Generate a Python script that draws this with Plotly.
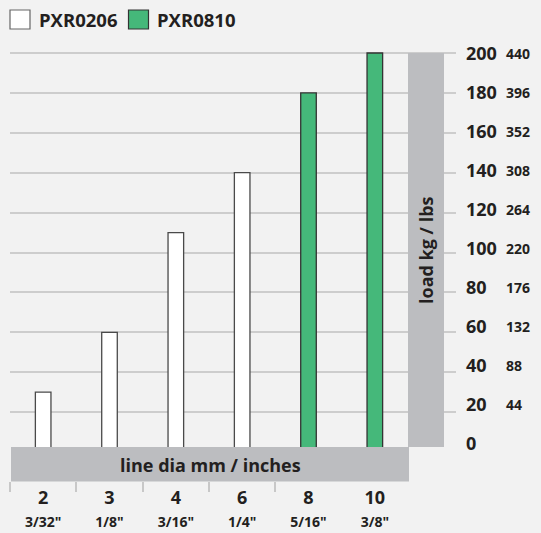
import plotly.graph_objects as go

# ---- data ----
dia_mm = ["2", "3", "4", "6", "8", "10"]
dia_inch = ['3/32"', '1/8"', '3/16"', '1/4"', '5/16"', '3/8"']
series_names = ["PXR0206", "PXR0810"]
pxr0206_load = [30, 60, 110, 140, None, None]
pxr0810_load = [None, None, None, None, 180, 200]
kg_ticks = [0, 20, 40, 60, 80, 100, 120, 140, 160, 180, 200]
lbs_ticks = [44, 88, 132, 176, 220, 264, 308, 352, 396, 440]
y_title = "load kg / lbs"
x_title = "line dia mm / inches"

# ---- layout helpers (pixel -> paper) ----
W, H = 541, 533
ML, MR, MT, MB = 10, 44, 50, 52
PW, PH = W - ML - MR, H - MT - MB
def fx(p):
    return (p - ML) / PW
def fy(p):
    return (H - MB - p) / PH

BG = "#f2f2f2"
BAND = "#bcbdc0"
GREEN = "#45b87a"
TXT = "#231f20"
FONT = "Open Sans"

pos = list(range(len(dia_mm)))
cat_w = (408 - 10) / len(dia_mm)
x_hi = -0.5 + (456 - 10) / cat_w

k = (452 - 53) / 200.0
y_rng = [-(H - MB - 452) / k, 200 + (53 - MT) / k]
k2 = (444 - 54) / 200.0
y2_rng = [-(H - MB - 444) / k2, 200 + (54 - MT) / k2]
y3_rng = [v * 2.2 for v in y2_rng]

fig = go.Figure()
fig.add_trace(go.Bar(x=pos, y=pxr0206_load, name=series_names[0], width=0.235,
                     marker=dict(color="white", line=dict(color="#4a4a4a", width=1.3)),
                     showlegend=False))
fig.add_trace(go.Bar(x=pos, y=pxr0810_load, name=series_names[1], width=0.235,
                     marker=dict(color=GREEN, line=dict(color="#333333", width=1.3)),
                     showlegend=False))
fig.add_trace(go.Scatter(x=[None], y=[None], yaxis="y2", showlegend=False, hoverinfo="skip"))
fig.add_trace(go.Scatter(x=[None], y=[None], yaxis="y3", showlegend=False, hoverinfo="skip"))

ticktext = [f"<b>{m}</b><br><span style='font-size:14px'>{i}</span>" for m, i in zip(dia_mm, dia_inch)]

fig.update_layout(
    template="none",
    width=W, height=H,
    margin=dict(l=ML, r=MR, t=MT, b=MB, pad=0),
    paper_bgcolor=BG, plot_bgcolor=BG,
    barmode="overlay",
    showlegend=False,
    font=dict(family=FONT, color=TXT),
    xaxis=dict(domain=[0, fx(456)], range=[-0.5, x_hi], showgrid=False, zeroline=False,
               automargin=False,
               showline=False, tickmode="array", tickvals=pos, ticktext=ticktext, ticks="",
               tickfont=dict(size=18, weight=700, color=TXT), ticklabelstandoff=4,
               minor=dict(tickmode="array", tickvals=[p - 0.5 for p in pos[:-1]],
                          ticks="outside", ticklen=10, tickwidth=1.5, tickcolor="#c8c8c8",
                          showgrid=False)),
    yaxis=dict(range=y_rng, tickmode="array", tickvals=kg_ticks[1:], showticklabels=False,
               automargin=False,
               showgrid=True, gridcolor="#cdcdcd", gridwidth=1.5, zeroline=False, showline=False,
               ticks=""),
    yaxis2=dict(overlaying="y", anchor="x", side="right", range=y2_rng, tickmode="array",
                automargin=False,
                tickvals=kg_ticks, showgrid=False, zeroline=False, showline=False, ticks="",
                tickfont=dict(size=18, weight=700, color=TXT), ticklabelstandoff=9),
    yaxis3=dict(overlaying="y", anchor="free", position=1.0, side="right", range=y3_rng,
                automargin=False,
                tickmode="array", tickvals=lbs_ticks, showgrid=False, zeroline=False,
                showline=False, ticks="", tickfont=dict(size=14, weight=700, color=TXT),
                ticklabelstandoff=8),
    shapes=[
        dict(type="rect", xref="paper", yref="paper", x0=fx(408), x1=fx(444), y0=fy(447), y1=fy(53),
             fillcolor=BAND, line=dict(width=0), layer="above"),
        dict(type="rect", xref="paper", yref="paper", x0=fx(11), x1=fx(409), y0=fy(481.5), y1=fy(447),
             fillcolor=BAND, line=dict(width=0), layer="above"),
        dict(type="rect", xref="paper", yref="paper", x0=fx(10), x1=fx(30), y0=fy(29), y1=fy(10),
             fillcolor="white", line=dict(color="#666666", width=1.2)),
        dict(type="rect", xref="paper", yref="paper", x0=fx(128.5), x1=fx(148.5), y0=fy(29), y1=fy(10),
             fillcolor=GREEN, line=dict(color="#333333", width=1.2)),
    ],
    annotations=[
        dict(xref="paper", yref="paper", x=fx(37), y=fy(20), text=f"<b>{series_names[0]}</b>",
             showarrow=False, xanchor="left", yanchor="middle", font=dict(size=18.5, color=TXT)),
        dict(xref="paper", yref="paper", x=fx(155), y=fy(20), text=f"<b>{series_names[1]}</b>",
             showarrow=False, xanchor="left", yanchor="middle", font=dict(size=18.5, color=TXT)),
        dict(xref="paper", yref="paper", x=fx(426), y=fy(250), text=f"<b>{y_title}</b>",
             showarrow=False, textangle=-90, xanchor="center", yanchor="middle",
             font=dict(size=18, color=TXT)),
        dict(xref="paper", yref="paper", x=fx(210), y=fy(465), text=f"<b>{x_title}</b>",
             showarrow=False, xanchor="center", yanchor="middle", font=dict(size=18, color=TXT)),
    ],
)

fig.write_html("out.html", config={"displayModeBar": False},
               post_script="document.body.style.margin='0';document.body.style.background='%s';" % BG)
